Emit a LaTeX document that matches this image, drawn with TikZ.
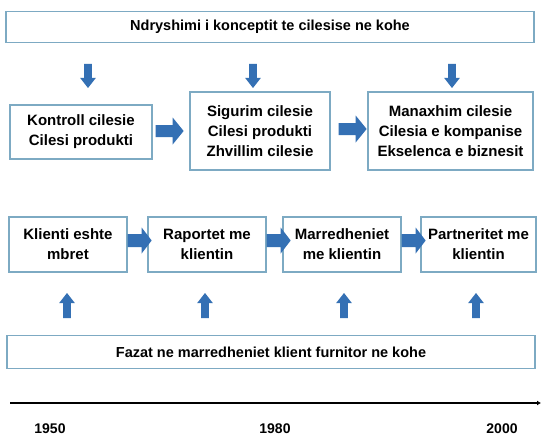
\documentclass[tikz,border=0pt]{standalone}
\usepackage{fontspec}
\setmainfont{Liberation Sans}
\usetikzlibrary{calc,arrows.meta}
\definecolor{boxline}{RGB}{125,170,195}
\definecolor{arrowblue}{RGB}{52,112,180}
\tikzset{
  x=1pt, y=1pt,
  txt/.style={font=\bfseries\fontsize{15}{20}\selectfont, align=center, text=black},
  stage/.style={draw=boxline, line width=1.3pt, fill=white, inner sep=0pt, txt},
  banner/.style={draw=boxline, line width=1.3pt, fill=white, inner sep=0pt,
    font=\bfseries\fontsize{14.5}{18}\selectfont, align=center},
  % block arrow pointing right: shaft half-width / head half-width / head length / total length
  pics/barrow/.style args={#1/#2/#3/#4}{code={
    \fill[arrowblue] (0,-#1) -- (#4-#3,-#1) -- (#4-#3,-#2) -- (#4,0)
      -- (#4-#3,#2) -- (#4-#3,#1) -- (0,#1) -- cycle;}},
  year/.style={font=\bfseries\fontsize{14}{15}\selectfont}
}
\begin{document}
\begin{tikzpicture}
\useasboundingbox (0,0) rectangle (541,-436);
\fill[white] (0,0) rectangle (541,-436);

% headline banners
\node[banner, minimum width=528pt, minimum height=31pt] (top) at (270,-27) {Ndryshimi i konceptit te cilesise ne kohe};
\node[banner, minimum width=528pt, minimum height=33pt] (bottom) at (271,-352) {Fazat ne marredheniet klient furnitor ne kohe};

% quality concept row
\node[stage, minimum width=142pt, minimum height=54pt] (q1) at (81,-132) {Kontroll cilesie\\Cilesi produkti};
\node[stage, minimum width=140pt, minimum height=78pt] (q2) at (260,-131) {Sigurim cilesie\\Cilesi produkti\\Zhvillim cilesie};
\node[stage, minimum width=165pt, minimum height=78pt] (q3) at (450.5,-131) {Manaxhim cilesie\\Cilesia e kompanise\\Ekselenca e biznesit};

% client relationship row
\node[stage, minimum width=118pt, minimum height=55pt] (c1) at (68,-244.5) {Klienti eshte\\mbret};
\node[stage, minimum width=118pt, minimum height=55pt] (c2) at (207,-244.5) {Raportet me\\klientin};
\node[stage, minimum width=118pt, minimum height=55pt] (c3) at (342,-244.5) {Marredheniet\\me klientin};
\node[stage, minimum width=115pt, minimum height=55pt] (c4) at (478.5,-244.5) {Partneritet me\\klientin};

% arrows down from the top banner
\foreach \xa/\n in {88/q1, 253/q2, 452/q3}
  \pic[rotate=-90] (d\n) at (\xa,-64) {barrow=3.8/7.8/10/24};

% arrows between quality stages
\pic (qa1) at ($(q1.east)+(3,1)$) {barrow=6/13.5/11/28};
\pic (qa2) at ($(q2.east)+(8,2)$) {barrow=6/13.5/11/28};

% arrows between client stages
\pic (ca1) at ($(c1.east)+(0,4)$) {barrow=6.5/13/10/24};
\pic (ca2) at ($(c2.east)+(0,4)$) {barrow=6.5/13/10/24};
\pic (ca3) at ($(c3.east)+(0,4)$) {barrow=6.5/13/10/24};

% arrows up from the bottom banner
\foreach \xa/\n in {67/c1, 205/c2, 344/c3, 476/c4}
  \pic[rotate=90] (u\n) at (\xa,-318) {barrow=3.8/7.8/10/25};

% time axis
\coordinate (t0) at (10,-403);
\coordinate (t1) at (541,-403);
\draw[line width=1.4pt, -{Latex[length=4pt,width=5pt]}] (t0) -- (t1);
\node[year] (y1950) at (50,-428.5) {1950};
\node[year] (y1980) at (275,-428.5) {1980};
\node[year] (y2000) at (502,-428.5) {2000};
\end{tikzpicture}
\end{document}
